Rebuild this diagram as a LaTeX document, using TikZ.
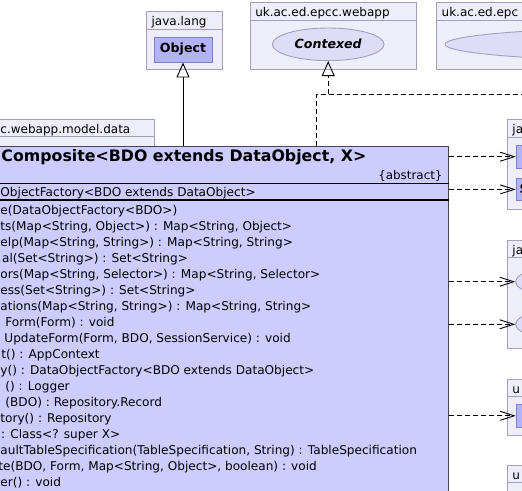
\documentclass[tikz,border=0pt]{standalone}
\usepackage{fontspec}
\setmainfont{DejaVu Sans}
\usetikzlibrary{shapes.geometric,arrows.meta}
\definecolor{pkgfill}{RGB}{238,238,250}
\definecolor{pkgline}{RGB}{160,160,190}
\definecolor{clsfill}{RGB}{204,204,255}
\definecolor{clsline}{RGB}{70,70,90}
\definecolor{reffill}{RGB}{179,179,250}
\definecolor{refline}{RGB}{128,128,200}
\definecolor{iffill}{RGB}{221,221,247}

\begin{document}
\begin{tikzpicture}[x=1pt, y=-1pt, line width=0.9pt,
    pkg/.style={draw=pkgline, fill=pkgfill},
    pkgname/.style={anchor=base west, inner sep=0pt, font=\fontsize{12}{14}\selectfont},
    refbox/.style={draw=refline, fill=reffill, inner sep=0pt, font=\bfseries\fontsize{12.6}{14}\selectfont},
    iface/.style={ellipse, draw=pkgline, fill=iffill, inner sep=0pt, minimum height=32.6pt},
    member/.style={anchor=base west, inner sep=0pt, font=\fontsize{12.1}{16}\selectfont},
    dep/.style={dash pattern=on 5pt off 3pt, -{Straight Barb[length=14pt, width=9pt]}},
    inherit/.style={-{Triangle[open, length=15pt, width=13pt]}}]
    \useasboundingbox (0,0) rectangle (522,490);
    \clip (0,0) rectangle (522,490);

    % packages: left, right, tab top, tab bottom, body bottom, name
    \foreach \xa/\xb/\ya/\yb/\yc/\pname in {
        146.7/222/11.7/29.3/69.3/java.lang,
        250.3/416.7/2.3/20/69.3/uk.ac.ed.epcc.webapp,
        436.7/600/2.3/20/69.3/uk.ac.ed.epc,
        -4.5/154.3/119.3/136.7/520/c.webapp.model.data,
        507.5/600/119.5/137/209/ja,
        507.5/600/240/257.5/348.3/ja,
        507.5/600/379/396.5/435/u,
        507.5/600/465/482.5/520/u} {
        \draw[pkg] (\xa,\ya) rectangle (\xb,\yb);
        \draw[pkg] (\xa,\yb) rectangle (\xb,\yc);
        \node[pkgname] at ({\xa+4.5},{\yb-3.5}) {\pname};
    }

    \node[refbox, minimum width=58pt, minimum height=25pt] (object) at (183,49.5) {Object};
    \node[iface, minimum width=111.7pt, font=\bfseries\itshape\fontsize{12.6}{14}\selectfont] (contexed) at (328.2,44.3) {Contexed};
    \node[iface, minimum width=404pt] (epcif) at (647,44.3) {};

    \node[refbox, minimum width=80pt, minimum height=22.6pt, anchor=west] (jaA) at (515.7,156.7) {};
    \node[refbox, minimum width=80pt, minimum height=22.4pt, anchor=west] (jaB) at (515.7,189.4) {};
    \node[anchor=west, inner sep=0pt, font=\bfseries\fontsize{12.6}{14}\selectfont] at ([xshift=3.5pt]jaB.west) {S};
    \node[iface, minimum width=112pt, anchor=west] (jaI1) at (515.2,281.7) {};
    \node[iface, minimum width=112pt, anchor=west] (jaI2) at (515.2,324.3) {};
    \node[refbox, minimum width=80pt, minimum height=23pt, anchor=west] (uA) at (515.7,415.8) {};

    % the abstract class
    \node[draw=clsline, fill=clsfill, inner sep=0pt, minimum width=480pt, minimum height=380pt, anchor=north east] (composite) at (449,145.7) {};
    \node[anchor=base west, inner sep=0pt, font=\bfseries\fontsize{15.8}{18}\selectfont] (cname) at (1,161.7) {Composite<BDO extends DataObject, X>};
    \node[anchor=base east, inner sep=0pt, font=\fontsize{11.9}{14}\selectfont] (cabs) at (443,179) {\{abstract\}};
    \draw (-40,183.3) -- (449,183.3);
    \node[member] at (0,196.7) {ObjectFactory<BDO extends DataObject>};
    \draw[line width=2pt] (-40,200.3) -- (448.5,200.3);
    \foreach \dx/\txt [count=\i from 0] in {
        0/{e(DataObjectFactory<BDO>)},
        0/{ts(Map<String, Object>) : Map<String, Object>},
        0/{elp(Map<String, String>) : Map<String, String>},
        1.7/{al(Set<String>) : Set<String>},
        0/{ors(Map<String, Selector>) : Map<String, Selector>},
        0/{ess(Set<String>) : Set<String>},
        0/{ations(Map<String, String>) : Map<String, String>},
        5/{Form(Form) : void},
        4/{UpdateForm(Form, BDO, SessionService) : void},
        1/{t() : AppContext},
        0/{y() : DataObjectFactory<BDO extends DataObject>},
        5/{() : Logger},
        5/{(BDO) : Repository.Record},
        0/{tory() : Repository},
        0.7/{: Class<? super X>},
        0/{aultTableSpecification(TableSpecification, String) : TableSpecification},
        -2/{te(BDO, Form, Map<String, Object>, boolean) : void},
        0/{er() : void}} {
        \node[member] at (\dx,{214+16*\i}) {\txt};
    }

    % connectors
    \draw[inherit] (composite.north -| object) -- (object.south);
    \coordinate (bend) at (316.7,94.3);
    \coordinate (offright) at (530,94.3);
    \draw[dash pattern=on 5pt off 3pt] (composite.north -| bend) -- (bend) -- (offright);
    \draw[dash pattern=on 5pt off 3pt, inherit] (contexed.south |- bend) -- (contexed.south);
    \foreach \t in {jaA, jaB, jaI1, jaI2, uA}
        \draw[dep] (composite.east |- \t) -- (\t.west);
\end{tikzpicture}
\end{document}
